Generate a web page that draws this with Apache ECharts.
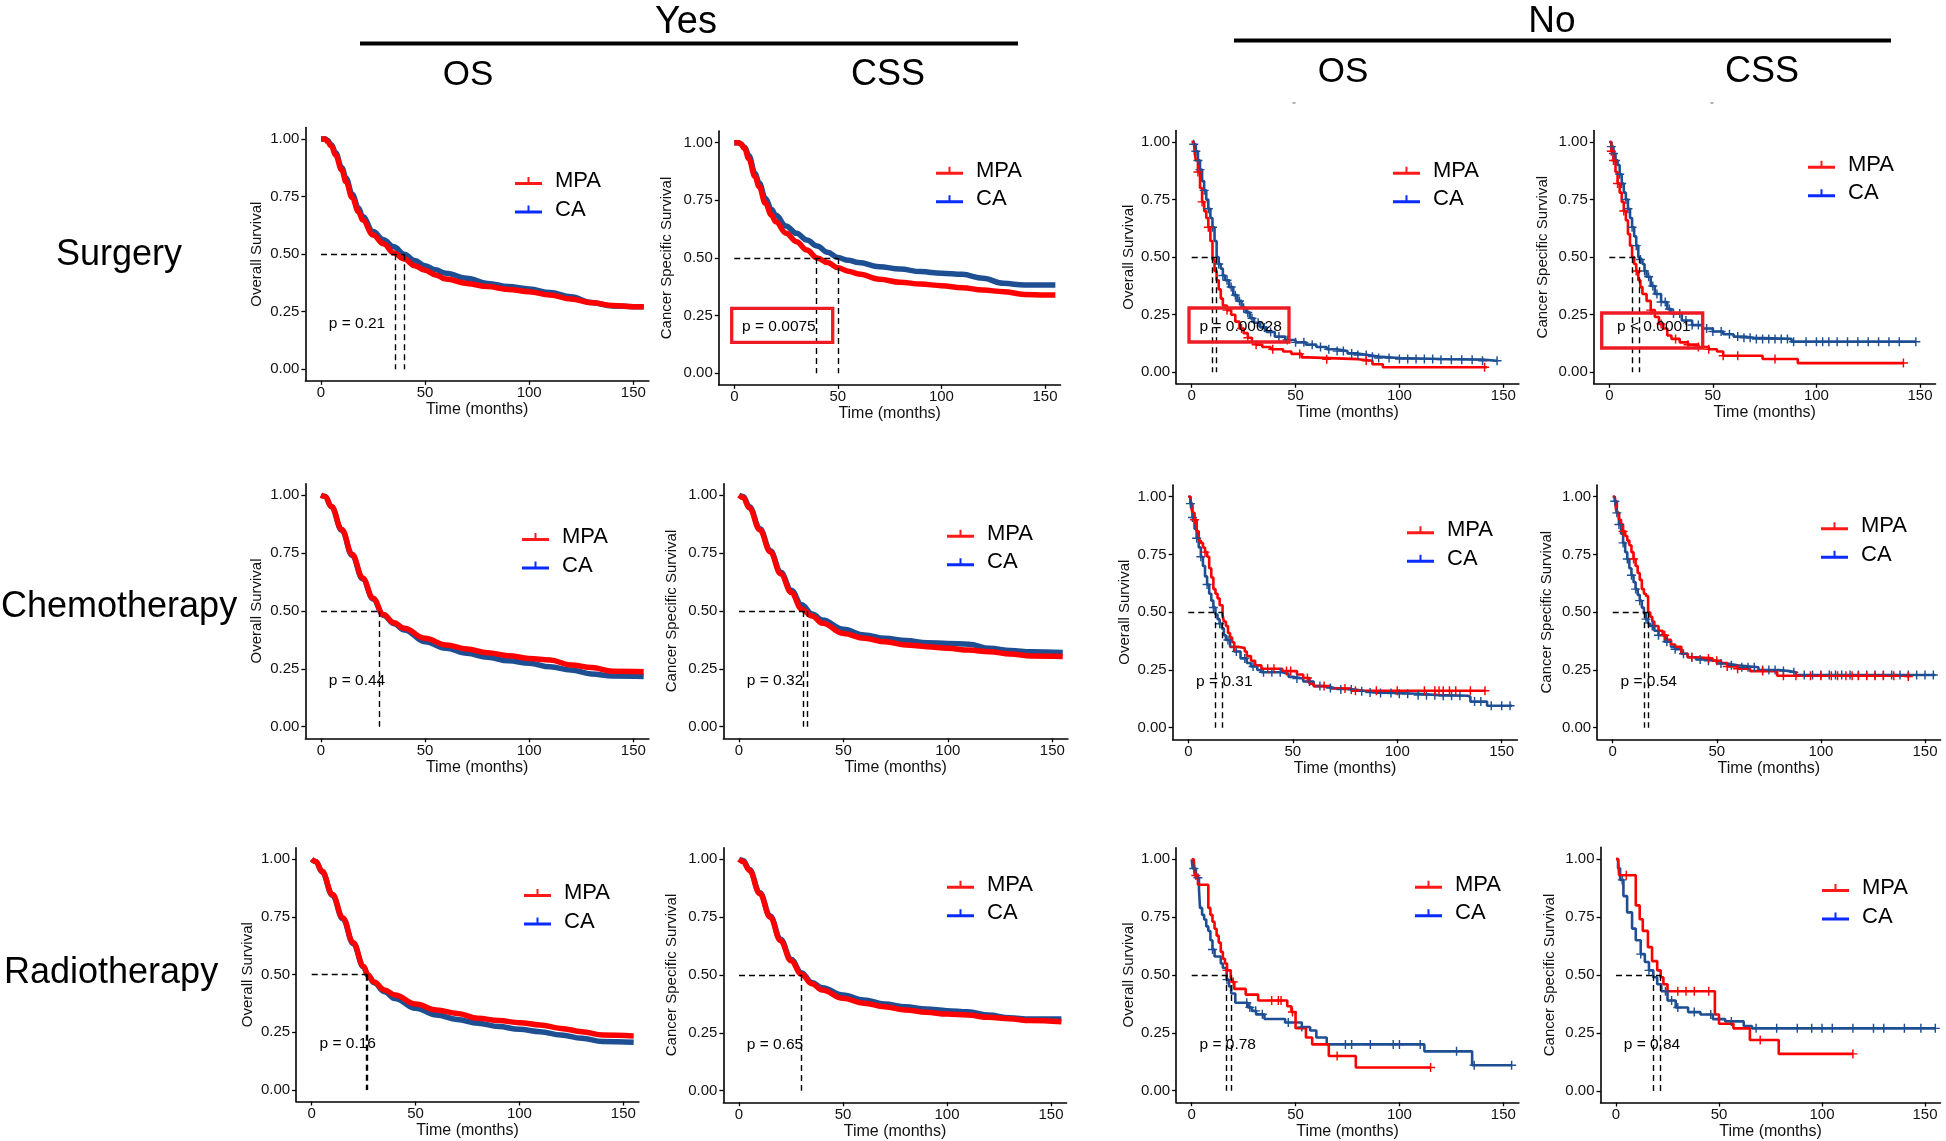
<!DOCTYPE html>
<html><head><meta charset="utf-8">
<script src="https://cdn.jsdelivr.net/npm/echarts@6/dist/echarts.min.js"></script>
<style>html,body{margin:0;padding:0;background:#fff}#c{width:1946px;height:1141px}</style>
</head><body><div id="c"></div>
<script>
// ---------------- DATA ----------------
const groupNames = ['MPA', 'CA'];
const rowLabels = ['Surgery', 'Chemotherapy', 'Radiotherapy'];
const groupLabels = ['Yes', 'No'];
const colLabels = ['OS', 'CSS', 'OS', 'CSS'];
const yAxisTitles = ['Overall Survival', 'Cancer Specific Survival', 'Overall Survival', 'Cancer Specific Survival'];
const xAxisTitle = 'Time (months)';
const xTicks = [0, 50, 100, 150];
const yTicks = [0, 0.25, 0.5, 0.75, 1];

// Surgery - Yes - OS
const surgYesOS_MPA = [[0,1],[2,1],[3,0.99],[5,0.97],[7,0.93],[10,0.865],[12,0.815],[15,0.745],[18,0.685],[20,0.648],[25,0.583],[30,0.545],[35,0.505],[40,0.479],[45,0.45],[50,0.43],[55,0.41],[60,0.392],[70,0.373],[80,0.359],[90,0.347],[100,0.337],[110,0.323],[120,0.305],[130,0.289],[140,0.277],[150,0.272],[155,0.272]];
const surgYesOS_CA = [[0,1],[2,1],[3,0.995],[5,0.975],[7,0.94],[10,0.875],[12,0.83],[15,0.76],[18,0.7],[20,0.663],[25,0.598],[30,0.563],[35,0.532],[40,0.5],[45,0.472],[50,0.45],[55,0.432],[60,0.417],[70,0.395],[80,0.373],[90,0.359],[100,0.349],[110,0.333],[120,0.315],[130,0.29],[140,0.275],[150,0.272],[155,0.272]];
// Surgery - Yes - CSS
const surgYesCSS_MPA = [[0,1],[2,1],[3,0.995],[5,0.975],[7,0.93],[10,0.853],[12,0.81],[15,0.737],[18,0.685],[20,0.657],[25,0.607],[30,0.571],[35,0.535],[40,0.5],[45,0.48],[50,0.458],[55,0.443],[60,0.431],[70,0.408],[80,0.395],[90,0.387],[100,0.38],[110,0.371],[120,0.361],[130,0.354],[140,0.342],[150,0.34],[155,0.34]];
const surgYesCSS_CA = [[0,1],[2,1],[3,0.995],[5,0.98],[7,0.945],[10,0.867],[12,0.825],[15,0.759],[18,0.71],[20,0.686],[25,0.639],[30,0.607],[35,0.578],[40,0.552],[45,0.525],[50,0.502],[55,0.49],[60,0.481],[70,0.462],[80,0.452],[90,0.441],[100,0.434],[110,0.429],[120,0.412],[130,0.39],[140,0.383],[150,0.383],[155,0.383]];
// Surgery - No - OS
const surgNoOS_MPA = [[0,1],[1,1],[1.5,0.95],[2,0.92],[3,0.87],[4,0.8],[5,0.74],[6,0.7],[7,0.67],[8,0.63],[9,0.57],[10,0.49],[11,0.44],[12,0.4],[13,0.36],[14,0.32],[15,0.29],[17,0.27],[19,0.25],[21,0.22],[23,0.19],[25,0.17],[27,0.15],[29,0.13],[31,0.12],[34,0.11],[38,0.1],[44,0.09],[48,0.08],[53,0.065],[56,0.057],[80,0.05],[87,0.035],[92,0.022],[142,0.022]];
const surgNoOS_CA = [[0,1],[1,0.99],[2,0.96],[3,0.92],[4,0.88],[5,0.83],[6,0.79],[7,0.75],[8,0.71],[9,0.67],[10,0.63],[11,0.57],[12,0.5],[13,0.47],[14,0.45],[15,0.42],[16,0.4],[18,0.37],[20,0.335],[22,0.31],[24,0.28],[26,0.26],[28,0.235],[30,0.215],[33,0.195],[36,0.175],[40,0.155],[45,0.14],[50,0.13],[55,0.12],[60,0.11],[65,0.1],[70,0.092],[75,0.082],[80,0.075],[85,0.068],[90,0.062],[100,0.058],[120,0.055],[140,0.05],[147,0.05]];
const surgNoOS_MPA_cens = [3,5,8,17,24,27,31,39,52,65,84,141];
const surgNoOS_CA_cens = [1,2,3,4,6,8,10,13,15,17,19,21,23,25,27,29,32,35,38,42,46,50,54,58,62,66,70,73,77,80,84,87,90,95,100,104,108,112,116,120,125,130,135,140,147];
// Surgery - No - CSS
const surgNoCSS_MPA = [[0,1],[0.5,1],[1,0.96],[2,0.92],[3,0.87],[4,0.82],[5,0.78],[6,0.74],[7,0.7],[8,0.66],[9,0.6],[10,0.55],[11,0.5],[12,0.47],[13,0.44],[14,0.4],[15,0.37],[16,0.34],[18,0.31],[20,0.27],[22,0.24],[24,0.21],[26,0.19],[28,0.16],[30,0.145],[34,0.13],[38,0.12],[43,0.11],[48,0.1],[52,0.09],[55,0.072],[74,0.058],[91,0.04],[142,0.04]];
const surgNoCSS_CA = [[0,1],[1,0.98],[2,0.95],[3,0.92],[4,0.9],[5,0.86],[6,0.82],[7,0.78],[8,0.75],[9,0.71],[10,0.67],[11,0.63],[12,0.59],[13,0.55],[14,0.5],[15,0.49],[16,0.47],[17,0.44],[18,0.415],[20,0.375],[22,0.34],[25,0.305],[28,0.275],[30,0.255],[35,0.225],[40,0.205],[45,0.19],[50,0.177],[55,0.165],[60,0.155],[65,0.15],[70,0.145],[88,0.133],[148,0.133]];
const surgNoCSS_MPA_cens = [1,2,4,7,13,20,25,32,38,43,48,55,62,80,142];
const surgNoCSS_CA_cens = [1,2,3,5,6,8,9,11,13,15,17,19,21,23,25,27,29,31,34,37,40,43,47,50,54,58,62,65,68,71,74,77,80,83,86,89,95,100,103,106,110,115,120,125,130,135,140,148];

// Chemotherapy - Yes - OS
const chemYesOS_MPA = [[0,1],[2,0.995],[5,0.952],[10,0.852],[15,0.744],[20,0.643],[25,0.555],[30,0.485],[35,0.449],[40,0.425],[50,0.382],[60,0.353],[70,0.336],[80,0.32],[90,0.307],[100,0.295],[110,0.288],[120,0.267],[130,0.256],[140,0.24],[155,0.238]];
const chemYesOS_CA = [[0,1],[2,0.995],[5,0.95],[10,0.848],[15,0.74],[20,0.638],[25,0.552],[30,0.482],[35,0.445],[40,0.418],[50,0.367],[60,0.339],[70,0.317],[80,0.3],[90,0.285],[100,0.274],[110,0.259],[120,0.245],[130,0.228],[140,0.219],[155,0.217]];
// Chemotherapy - Yes - CSS
const chemYesCSS_MPA = [[0,1],[2,0.99],[5,0.945],[10,0.85],[15,0.755],[20,0.66],[25,0.58],[30,0.508],[35,0.478],[40,0.447],[50,0.403],[60,0.382],[70,0.367],[80,0.353],[90,0.346],[100,0.339],[110,0.331],[120,0.324],[130,0.314],[140,0.305],[155,0.303]];
const chemYesCSS_CA = [[0,1],[2,0.995],[5,0.95],[10,0.855],[15,0.76],[20,0.667],[25,0.59],[30,0.527],[35,0.487],[40,0.461],[50,0.421],[60,0.396],[70,0.382],[80,0.372],[90,0.363],[100,0.36],[110,0.356],[120,0.339],[130,0.329],[140,0.324],[155,0.321]];
// Chemotherapy - No - OS
const chemNoOS_MPA = [[0,1],[1,1],[1.5,0.95],[2,0.93],[3,0.9],[4,0.85],[5,0.81],[6,0.8],[7,0.78],[8,0.76],[9,0.74],[10,0.69],[11,0.65],[12,0.6],[13,0.58],[14,0.56],[15,0.53],[16.4,0.49],[17,0.46],[18,0.44],[19,0.41],[20,0.39],[21,0.37],[22,0.35],[24,0.345],[27,0.33],[28,0.31],[30,0.29],[32,0.27],[35,0.255],[45,0.245],[52,0.23],[55,0.215],[58,0.19],[60,0.18],[68,0.17],[78,0.16],[142,0.16]];
const chemNoOS_CA = [[0,1],[1,0.97],[2,0.91],[3,0.86],[4,0.82],[5,0.78],[6,0.74],[7,0.7],[8,0.655],[9,0.62],[10,0.58],[11,0.55],[12,0.52],[13,0.49],[14,0.47],[15,0.45],[16,0.43],[17,0.4],[18,0.38],[20,0.35],[22,0.33],[25,0.3],[28,0.28],[30,0.265],[33,0.25],[35,0.24],[45,0.233],[48,0.22],[50,0.213],[55,0.2],[60,0.18],[65,0.172],[70,0.165],[80,0.158],[85,0.152],[90,0.15],[100,0.147],[110,0.141],[120,0.138],[134,0.134],[135,0.113],[143,0.095],[155,0.095]];
const chemNoOS_MPA_cens = [3,8,22,38,41,47,49,57,65,75,80,90,100,113,118,120,122,125,128,135,142];
const chemNoOS_CA_cens = [1,2,4,6,9,12,15,19,23,27,31,36,40,44,52,58,63,68,73,78,83,87,92,97,101,105,110,114,118,122,126,130,137,140,145,150,154];
// Chemotherapy - No - CSS
const chemNoCSS_MPA = [[0,1],[1,1],[1.5,0.95],[2,0.93],[3,0.9],[4,0.88],[5,0.85],[6,0.83],[7,0.81],[8,0.79],[9,0.76],[10,0.73],[11,0.7],[12,0.67],[13,0.64],[14,0.6],[15,0.58],[16,0.57],[17,0.5],[18,0.48],[19,0.46],[20,0.44],[22,0.42],[24,0.4],[26,0.38],[28,0.36],[30,0.35],[33,0.32],[36,0.305],[40,0.3],[48,0.29],[52,0.28],[55,0.265],[60,0.255],[66,0.245],[79,0.225],[142,0.222]];
const chemNoCSS_CA = [[0,1],[1,0.98],[2,0.93],[3,0.88],[4,0.84],[5,0.8],[6,0.76],[7,0.73],[8,0.69],[9,0.66],[10,0.63],[11,0.6],[12,0.575],[13,0.55],[14,0.52],[15,0.495],[16,0.47],[17,0.45],[18,0.44],[20,0.42],[22,0.4],[25,0.372],[28,0.35],[30,0.34],[33,0.32],[36,0.305],[40,0.295],[45,0.29],[50,0.278],[55,0.27],[60,0.262],[70,0.25],[80,0.245],[85,0.24],[88,0.228],[155,0.228]];
const chemNoCSS_MPA_cens = [5,10,25,38,46,50,55,60,72,82,88,95,100,105,108,112,115,118,122,126,130,135,142];
const chemNoCSS_CA_cens = [1,2,3,5,7,9,11,13,16,19,22,26,30,34,38,42,46,52,57,62,65,68,72,75,78,82,87,92,96,100,104,107,110,114,118,122,126,130,134,138,142,146,150,154];

// Radiotherapy - Yes - OS
const radYesOS_MPA = [[0,1],[2,0.99],[5,0.948],[10,0.847],[15,0.746],[20,0.638],[25,0.535],[27,0.5],[30,0.468],[35,0.434],[40,0.412],[50,0.373],[60,0.347],[70,0.332],[80,0.311],[90,0.301],[100,0.292],[110,0.282],[120,0.267],[130,0.253],[140,0.238],[155,0.234]];
const radYesOS_CA = [[0,1],[2,0.99],[5,0.945],[10,0.843],[15,0.742],[20,0.634],[25,0.532],[27,0.497],[30,0.465],[35,0.426],[40,0.397],[50,0.354],[60,0.325],[70,0.306],[80,0.289],[90,0.275],[100,0.263],[110,0.253],[120,0.238],[130,0.224],[140,0.21],[155,0.207]];
// Radiotherapy - Yes - CSS
const radYesCSS_MPA = [[0,1],[2,0.99],[5,0.952],[10,0.852],[15,0.75],[20,0.648],[25,0.562],[30,0.503],[35,0.462],[40,0.435],[50,0.399],[60,0.378],[70,0.363],[80,0.349],[90,0.339],[100,0.331],[110,0.327],[120,0.317],[130,0.311],[140,0.303],[155,0.298]];
const radYesCSS_CA = [[0,1],[2,0.995],[5,0.956],[10,0.855],[15,0.755],[20,0.654],[25,0.568],[30,0.51],[35,0.468],[40,0.445],[50,0.414],[60,0.392],[70,0.375],[80,0.363],[90,0.353],[100,0.346],[110,0.341],[120,0.327],[130,0.315],[140,0.31],[155,0.31]];
// Radiotherapy - No - OS
const radNoOS_MPA = [[0,1],[1,1],[1.5,0.93],[3,0.89],[8,0.79],[9,0.76],[10,0.73],[11,0.7],[12,0.67],[13,0.64],[14,0.6],[15,0.57],[16,0.55],[17,0.52],[18.8,0.49],[19.5,0.47],[20.5,0.44],[26,0.415],[32,0.39],[46,0.365],[48,0.34],[50,0.27],[55,0.23],[58,0.2],[66,0.15],[79,0.1],[115,0.1]];
const radNoOS_CA = [[0,1],[0.5,0.96],[2,0.92],[3.5,0.87],[4,0.79],[5,0.76],[6,0.74],[7,0.71],[8,0.69],[9,0.65],[10,0.61],[11,0.58],[14,0.55],[15,0.53],[16.8,0.5],[17,0.48],[18,0.45],[19,0.42],[21,0.38],[27,0.36],[29,0.345],[31,0.33],[35,0.31],[45,0.295],[53,0.275],[57,0.26],[60,0.23],[65,0.2],[112,0.17],[135,0.11],[154,0.11]];
const radNoOS_MPA_cens = [2,17,20,38.5,41.7,43,48.5,70,115];
const radNoOS_CA_cens = [1,3,10,17,26.5,28,30.8,34,46.5,53,74,77,86,97,100,110,127.5,136,154];
// Radiotherapy - No - CSS
const radNoCSS_MPA = [[0,1],[1,1],[1.5,0.93],[9.6,0.8],[11.5,0.74],[13,0.69],[15.5,0.62],[17.5,0.56],[20,0.52],[21.7,0.49],[23,0.46],[25,0.43],[48,0.33],[50,0.29],[57,0.27],[65,0.22],[79,0.16],[115,0.16]];
const radNoCSS_CA = [[0,1],[1,0.96],[2,0.91],[3.6,0.84],[5.4,0.77],[7.8,0.7],[9.6,0.65],[12,0.59],[14,0.556],[16,0.52],[18.1,0.49],[20,0.46],[22,0.43],[25,0.39],[29,0.36],[35,0.34],[41,0.33],[47,0.31],[53,0.3],[62,0.28],[66,0.27],[155,0.27]];
const radNoCSS_MPA_cens = [5,30,34,38,45,70,115];
const radNoCSS_CA_cens = [3,12,16,24,27,30,38,46,56,68,78,88,95,100,105,115,125,130,140,148,155];

const pValues = ['p = 0.21','p = 0.0075','p = 0.00028','p < 0.0001','p = 0.44','p = 0.32','p = 0.31','p = 0.54','p = 0.16','p = 0.65','p = 0.78','p = 0.84'];
const medians = [[35.9,39.9],[39.8,50],[10.1,12.0],[11.3,14.3],[28],[30.8,32.9],[13.1,16.4],[15.0,17.1],[26.3,26.8],[30.1],[16.8,18.8],[18.1,21.7]];
const pLabelAt = [3.5, 0.2];

// ---------------- LAYOUT / STYLE ----------------
const FONT = "'Liberation Sans', Arial, Helvetica, sans-serif";
const RED = '#ff0000', BLUE = '#1f4f93';
const LEG_RED = '#ff1a1a', LEG_BLUE = '#0a2bff';
// [x at 0 months, x at 150 months, y at 1.00, y at 0.00]
const anchors = [
 [321,633.3,139,369.3],[734.3,1045,142.7,373.3],[1191.7,1503.3,142,372.3],[1609.3,1920,142,372.3],
 [321,633.3,495.3,726.7],[739,1052.3,495.3,726.7],[1188.3,1501.7,496.7,727.7],[1612.7,1925,496.7,727.7],
 [311.7,623.3,859.3,1090],[739,1051,859.3,1090.7],[1191.7,1503.3,859.3,1090.7],[1616,1925,859,1091]
];
const legendAt = [[515,178],[936,167.7],[1393,167.7],[1808,161.7],[522,534],[947,530.7],[1407,527.3],[1821,523.3],[524,890],[947,881.7],[1415,881.7],[1822,885]];
const yNameGap = [41,44,40,43];

const panels = [
 {m: surgYesOS_MPA, c: surgYesOS_CA},
 {m: surgYesCSS_MPA, c: surgYesCSS_CA},
 {m: surgNoOS_MPA, c: surgNoOS_CA, cm: surgNoOS_MPA_cens, cc: surgNoOS_CA_cens},
 {m: surgNoCSS_MPA, c: surgNoCSS_CA, cm: surgNoCSS_MPA_cens, cc: surgNoCSS_CA_cens},
 {m: chemYesOS_MPA, c: chemYesOS_CA},
 {m: chemYesCSS_MPA, c: chemYesCSS_CA},
 {m: chemNoOS_MPA, c: chemNoOS_CA, cm: chemNoOS_MPA_cens, cc: chemNoOS_CA_cens},
 {m: chemNoCSS_MPA, c: chemNoCSS_CA, cm: chemNoCSS_MPA_cens, cc: chemNoCSS_CA_cens},
 {m: radYesOS_MPA, c: radYesOS_CA},
 {m: radYesCSS_MPA, c: radYesCSS_CA},
 {m: radNoOS_MPA, c: radNoOS_CA, cm: radNoOS_MPA_cens, cc: radNoOS_CA_cens},
 {m: radNoCSS_MPA, c: radNoCSS_CA, cm: radNoCSS_MPA_cens, cc: radNoCSS_CA_cens}
];

function stepValue(curve, t) {
  let v = curve[0][1];
  for (const p of curve) { if (p[0] <= t) v = p[1]; else break; }
  return v;
}

const CROSS = 'path://M4.2,0h1.6v10h-1.6z M0,4.2h10v1.6h-10z';
const LEG_ICON = 'path://M0,5h27v3h-27z M12.5,0h2v5h-2z';

const grids = [], xAxes = [], yAxes = [], series = [], legends = [];
panels.forEach((p, i) => {
  const [x0, x150, y1, y0] = anchors[i];
  const ppm = (x150 - x0) / 150, ppu = y0 - y1;
  grids.push({left: x0 - 7.5 * ppm, top: y1 - 0.05 * ppu, width: 165 * ppm, height: 1.1 * ppu, outerBoundsMode: 'none', containLabel: false});
  const col = i % 4;
  const axisCommon = {
    gridIndex: i, type: 'value', splitLine: {show: false},
    axisLine: {show: true, onZero: false, lineStyle: {color: '#000', width: 1.6}},
    axisTick: {show: true, length: 4, lineStyle: {color: '#000', width: 1.3}},
    nameLocation: 'middle'
  };
  xAxes.push(Object.assign({}, axisCommon, {
    min: -7.5, max: 157.5, name: xAxisTitle, nameGap: 12,
    nameTextStyle: {fontSize: 16, color: '#111', fontFamily: FONT},
    axisTick: Object.assign({}, axisCommon.axisTick, {customValues: xTicks}),
    axisLabel: {customValues: xTicks, fontSize: 15, color: '#111', margin: 5, fontFamily: FONT}
  }));
  yAxes.push(Object.assign({}, axisCommon, {
    min: -0.05, max: 1.05, name: yAxisTitles[col], nameGap: yNameGap[col],
    nameTextStyle: {fontSize: 15, color: '#111', fontFamily: FONT},
    axisTick: Object.assign({}, axisCommon.axisTick, {customValues: yTicks}),
    axisLabel: {customValues: yTicks, fontSize: 15, color: '#111', margin: 6, fontFamily: FONT, formatter: v => v.toFixed(2)}
  }));
  const isStep = !!p.cm;
  const lineSeries = (name, data, color) => ({
    type: 'line', name, xAxisIndex: i, yAxisIndex: i, data,
    showSymbol: false, silent: true, animation: false, z: 2,
    step: isStep ? 'end' : false,
    smooth: isStep ? false : 0.4, smoothMonotone: 'x',
    lineStyle: {color, width: isStep ? 2.6 : 5.5, opacity: 1},
    itemStyle: {color}
  });
  const meds = medians[i];
  const mmax = Math.max(...meds);
  const segs = [{coords: [[0, 0.5], [mmax, 0.5]]}].concat(meds.map(m => ({coords: [[m, 0.5], [m, 0]]})));
  series.push(lineSeries('CA', p.c, BLUE));
  series.push(lineSeries('MPA', p.m, RED));
  if (isStep) {
    series.push({type: 'scatter', name: 'CA', xAxisIndex: i, yAxisIndex: i, silent: true, z: 3,
      symbol: CROSS, symbolSize: 9, itemStyle: {color: BLUE, opacity: 1},
      data: p.cc.map(t => [t, stepValue(p.c, t)])});
    series.push({type: 'scatter', name: 'MPA', xAxisIndex: i, yAxisIndex: i, silent: true, z: 3,
      symbol: CROSS, symbolSize: 9, itemStyle: {color: RED, opacity: 1},
      data: p.cm.map(t => [t, stepValue(p.m, t)])});
  }
  series.push({type: 'lines', coordinateSystem: 'cartesian2d', xAxisIndex: i, yAxisIndex: i, polyline: false,
    silent: true, z: 4, data: segs, lineStyle: {color: '#000', width: 1.4, type: [6, 4], opacity: 1, curveness: 0}});
  series.push({type: 'scatter', name: 'pval', xAxisIndex: i, yAxisIndex: i, silent: true, z: 5, symbolSize: 1,
    data: [pLabelAt], itemStyle: {color: 'rgba(0,0,0,0)', opacity: 1},
    label: {show: true, position: 'right', distance: 0, formatter: pValues[i], fontSize: 15.5, color: '#000', fontFamily: FONT}});
  legends.push({
    orient: 'vertical', left: legendAt[i][0], top: legendAt[i][1] - 11, padding: 0,
    itemWidth: 27, itemHeight: 8, itemGap: 0.5, icon: LEG_ICON, selectedMode: false,
    textStyle: {fontSize: 22, color: '#000', fontFamily: FONT, lineHeight: 23, padding: [5, 0, 0, 8]},
    data: [{name: 'MPA', itemStyle: {color: LEG_RED}}, {name: 'CA', itemStyle: {color: LEG_BLUE}}]
  });
});

const txt = (x, y, text, size, align) => ({type: 'text', x, y, silent: true,
  style: {text, fontSize: size, fontFamily: FONT, fill: '#000', align: align || 'center', verticalAlign: 'middle'}});
const graphics = [
  txt(686, 23, groupLabels[0], 38), txt(1552, 22, groupLabels[1], 37),
  {type: 'rect', silent: true, shape: {x: 360, y: 41.5, width: 658, height: 4}, style: {fill: '#000'}},
  {type: 'rect', silent: true, shape: {x: 1234, y: 38.5, width: 657, height: 4}, style: {fill: '#000'}},
  txt(468, 75, colLabels[0], 35), txt(888, 75.5, colLabels[1], 36),
  txt(1343, 72.5, colLabels[2], 35), txt(1762, 72.5, colLabels[3], 36),
  txt(56, 255, rowLabels[0], 36, 'left'), txt(1, 607, rowLabels[1], 36, 'left'), txt(4, 973, rowLabels[2], 36, 'left'),
  {type: 'text', x: 1294, y: 106, silent: true, style: {text: "''", fontSize: 9, fill: '#666', fontFamily: FONT, align: 'center', verticalAlign: 'middle'}},
  {type: 'text', x: 1712, y: 106, silent: true, style: {text: "''", fontSize: 9, fill: '#666', fontFamily: FONT, align: 'center', verticalAlign: 'middle'}},
  {type: 'rect', silent: true, z: 100, shape: {x: 731.7, y: 308.3, width: 101, height: 34}, style: {fill: 'none', stroke: '#ed1c24', lineWidth: 3.3}},
  {type: 'rect', silent: true, z: 100, shape: {x: 1189, y: 308, width: 100, height: 34}, style: {fill: 'none', stroke: '#ed1c24', lineWidth: 3.3}},
  {type: 'rect', silent: true, z: 100, shape: {x: 1601.7, y: 313, width: 101, height: 35}, style: {fill: 'none', stroke: '#ed1c24', lineWidth: 3.3}}
];

const chart = echarts.init(document.getElementById('c'), null, {renderer: 'canvas'});
chart.setOption({
  animation: false,
  backgroundColor: '#fff',
  textStyle: {fontFamily: FONT},
  grid: grids, xAxis: xAxes, yAxis: yAxes,
  legend: legends, series, graphic: graphics
});
</script></body></html>
